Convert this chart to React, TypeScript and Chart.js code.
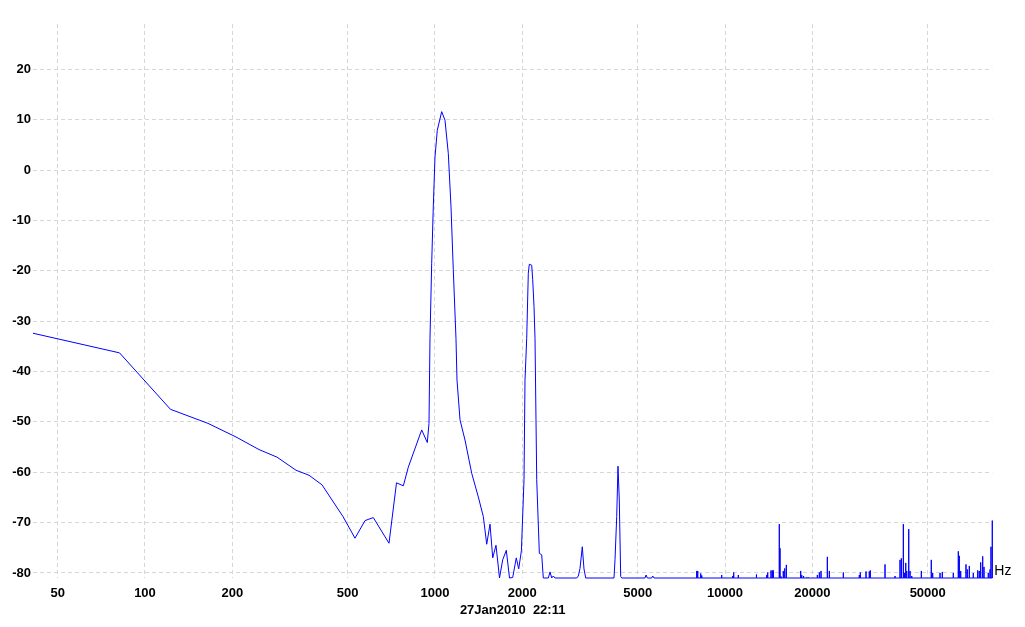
import React, { useEffect, useRef } from "react";
import { Chart, registerables } from "chart.js";

Chart.register(...registerables);

// Continuous part of the spectrum (Hz, dB)
const curveFreq = [
  41.1, 81.7, 122.4, 164.9, 206.0, 247.3, 285.2, 331.7, 367.8, 407.7,
  481.7, 529.9, 573.7, 612.8, 694.0, 736.7, 777.6, 809.0, 899.8, 940.6,
  953.4, 961.1, 974.1, 986.5, 1000, 1018.4, 1054.6, 1082.6, 1111.4, 1135.5,
  1156.3, 1181.3, 1190.9, 1219.6, 1268.9, 1338.4, 1410.3, 1467.6, 1507.7, 1547.8,
  1581.3, 1623.0, 1668.9, 1711.7, 1761.6, 1806.8, 1853.2, 1906.8, 1943.6, 1985.7,
  2027.3, 2043.5, 2071.4, 2097.8, 2114.8, 2155.1, 2172.5, 2195.1, 2212.4, 2242.7,
  2289.6, 2333.3, 2363.1, 2459.2, 2492.8, 2526.4, 2558.6, 2593.5, 3081.2, 3120.5,
  3162.3, 3220.4, 3264.3, 3308.9, 4141.8, 4175.3, 4232.3, 4275.6, 4320.1, 4368.2,
  4403.5, 5298.5, 5341.4, 5397.1, 5587.7, 5632.9, 5691.5,
];
const curveDb = [
  -32.4, -36.3, -47.5, -50.3, -53.0, -55.5, -57.0, -59.6, -60.6, -62.5,
  -68.8, -73.1, -69.6, -69.0, -74.1, -62.1, -62.7, -59.0, -51.6, -54.1,
  -50.3, -33.4, -18.5, -7.3, 2.6, 7.9, 11.6, 9.9, 3.3, -7.3,
  -19.8, -33.4, -41.7, -49.6, -53.6, -60.2, -64.9, -68.8, -74.3, -70.3,
  -77.0, -74.5, -81, -77.4, -75.5, -81, -80.9, -77.0, -79.2, -75.6,
  -61.5, -41.7, -33.4, -20.5, -18.7, -18.9, -21.8, -27.1, -33.4, -61.5,
  -76.1, -76.4, -81, -81, -79.8, -81, -80.6, -81, -81, -80.6,
  -79.1, -74.8, -79.2, -81, -81, -77.4, -68.8, -58.8, -65.5, -80.7,
  -81, -81, -80.4, -81, -81, -80.6, -81,
];

// Narrow spurious spikes in the high-frequency range (Hz, peak dB)
const spikeFreq = [
  7989, 8053, 8247, 8314, 9741, 10632, 10715, 11115, 12795, 12866,
  13925, 14036, 14409, 14560, 14677, 15390, 15479, 15600, 15887, 16067,
  16271, 18239, 18386, 18577, 18723, 19129, 19373, 20815, 21149, 21434,
  22535, 22896, 25587, 29046, 29280, 30634, 31445, 31696, 35629, 38575,
  40132, 40551, 41201, 41535, 41998, 42338, 43008, 43455, 44047, 47531,
  51441, 52011, 55128, 56140, 61267, 63756, 64259, 64981, 67764, 68469,
  69565, 71808, 74364, 75308, 76147, 77367, 78174, 80884, 81988, 82635,
  83497,
];
const spikeDb = [
  -79.6, -79.6, -80.1, -80.5, -80.4, -80.6, -79.9, -80.4, -80.5, -80.3,
  -80.4, -79.9, -79.5, -79.5, -79.5, -70.3, -75.1, -80.7, -79.6, -79.1,
  -78.4, -79.6, -80.4, -80.6, -80.7, -80.9, -80.9, -80.4, -79.9, -79.6,
  -76.8, -79.6, -79.9, -80.4, -79.9, -79.7, -79.7, -79.5, -78.3, -80.6,
  -77.4, -77.1, -70.3, -80.0, -78.0, -79.6, -71.3, -79.6, -80.6, -79.6,
  -77.4, -80.0, -80.0, -79.8, -80.0, -75.7, -76.6, -79.6, -78.3, -79.3,
  -78.6, -80.0, -79.5, -79.6, -77.9, -76.7, -78.8, -80.0, -79.3, -74.8,
  -69.6,
];

const FLOOR_DB = -81;
const X_MIN = 41.1;
const X_MAX = 83500;
const Y_MAX = 29;
const xTickValues = [50, 100, 200, 500, 1000, 2000, 5000, 10000, 20000, 50000];
const yTickValues = [-80, -70, -60, -50, -40, -30, -20, -10, 0, 10, 20];
const dateLabel = "27Jan2010  22:11";
const unitLabel = "Hz";

const FONT_FAMILY = '"Liberation Sans", Arial, sans-serif';

export default function App() {
  const canvasRef = useRef<HTMLCanvasElement | null>(null);

  useEffect(() => {
    if (!canvasRef.current) return;

    const points: { x: number; y: number }[] = curveFreq.map((f, i) => ({ x: f, y: curveDb[i] }));
    spikeFreq.forEach((f, i) => {
      points.push({ x: f, y: FLOOR_DB });
      points.push({ x: f, y: spikeDb[i] });
      points.push({ x: f, y: FLOOR_DB });
    });

    const unitPlugin = {
      id: "unitLabel",
      afterDraw(chart: any) {
        const { ctx, chartArea } = chart;
        ctx.save();
        ctx.font = `14px ${FONT_FAMILY}`;
        ctx.fillStyle = "#000";
        ctx.textAlign = "left";
        ctx.textBaseline = "alphabetic";
        ctx.fillText(unitLabel, chartArea.right + 2, chartArea.bottom - 3);
        ctx.restore();
      },
    };

    const gridStyle = {
      color: "#d6d6d6",
      lineWidth: 1,
      drawTicks: false,
      tickBorderDash: [4, 3],
    };

    const chart = new Chart(canvasRef.current, {
      type: "line",
      data: {
        datasets: [
          {
            data: points,
            borderColor: "#0000ff",
            borderWidth: 1,
            pointRadius: 0,
            tension: 0,
            fill: false,
            clip: false as any,
          },
        ],
      },
      options: {
        animation: false,
        responsive: false,
        devicePixelRatio: 1,
        layout: { padding: { top: 24, right: 32.7, left: 0, bottom: 0 } },
        plugins: {
          legend: { display: false },
          tooltip: { enabled: false },
        },
        scales: {
          x: {
            type: "logarithmic",
            min: X_MIN,
            max: X_MAX,
            border: { display: false, dash: [4, 3] },
            grid: gridStyle as any,
            afterBuildTicks: (scale: any) => {
              scale.ticks = xTickValues.map((v) => ({ value: v }));
            },
            afterFit: (scale: any) => {
              scale.height = 49;
            },
            ticks: {
              autoSkip: false,
              maxRotation: 0,
              padding: 8,
              color: "#000",
              font: { family: FONT_FAMILY, size: 13, weight: "bold" },
              callback: (v: any) => String(v),
            },
            title: {
              display: true,
              text: dateLabel,
              color: "#000",
              font: { family: FONT_FAMILY, size: 13, weight: "bold" },
              padding: { top: 0, bottom: 9 },
            },
          },
          y: {
            type: "linear",
            min: FLOOR_DB,
            max: Y_MAX,
            border: { display: false, dash: [4, 3] },
            grid: gridStyle as any,
            afterBuildTicks: (scale: any) => {
              scale.ticks = yTickValues.map((v) => ({ value: v }));
            },
            afterFit: (scale: any) => {
              scale.width = 33;
            },
            ticks: {
              padding: 2,
              color: "#000",
              font: { family: FONT_FAMILY, size: 13, weight: "bold" },
              callback: (v: any) => String(v),
            },
          },
        },
      },
      plugins: [unitPlugin],
    });

    return () => chart.destroy();
  }, []);

  return (
    <div style={{ position: "fixed", left: 0, top: 0, width: 1025, height: 627, background: "#fff" }}>
      <canvas ref={canvasRef} width={1025} height={627} style={{ display: "block" }} />
    </div>
  );
}
